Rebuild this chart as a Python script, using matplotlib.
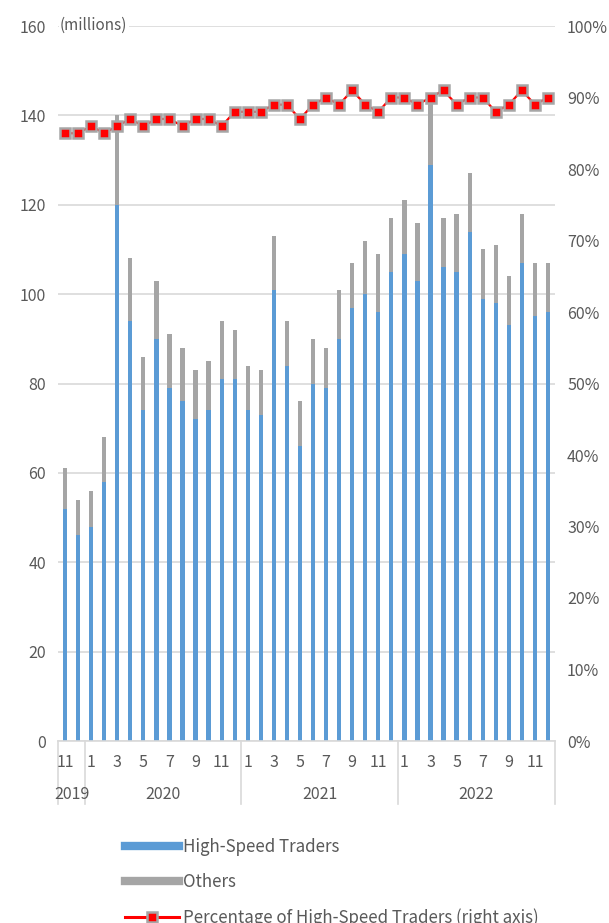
import numpy as np
import matplotlib
matplotlib.use("Agg")
from matplotlib import pyplot as plt
from matplotlib.lines import Line2D

plt.rcParams['font.family'] = ['Noto Sans CJK JP', 'DejaVu Sans']

# monthly data, Nov 2019 - Dec 2022
months = [11, 12] + list(range(1, 13)) * 3
years = ['2019', '2020', '2021', '2022']
year_spans = [(0, 1), (2, 13), (14, 25), (26, 37)]

total = [61, 54,
         56, 68, 140, 108, 86, 103, 91, 88, 83, 85, 94, 92,
         84, 83, 113, 94, 76, 90, 88, 101, 107, 112, 109, 117,
         121, 116, 143, 117, 118, 127, 110, 111, 104, 118, 107, 107]
hst = [52, 46,
       48, 58, 120, 94, 74, 90, 79, 76, 72, 74, 81, 81,
       74, 73, 101, 84, 66, 80, 79, 90, 97, 100, 96, 105,
       109, 103, 129, 106, 105, 114, 99, 98, 93, 107, 95, 96]
pct = [85, 85,
       86, 85, 86, 87, 86, 87, 87, 86, 87, 87, 86, 88,
       88, 88, 89, 89, 87, 89, 90, 89, 91, 89, 88, 90,
       90, 89, 90, 91, 89, 90, 90, 88, 89, 91, 89, 90]

others = [t - h for t, h in zip(total, hst)]
x = np.arange(len(months))

blue = '#5b9bd5'
grey = '#a5a5a5'
red = '#ff0000'
txt = '#595959'
gridc = '#d9d9d9'
fs = 11.5

fig = plt.figure(figsize=(6.09, 9.23), dpi=100)
ax = fig.add_axes([58.5/609, 182/923, 496/609, 715/923])

w = 0.33
ax.bar(x, hst, width=w, color=blue, zorder=2)
ax.bar(x, others, width=w, bottom=hst, color=grey, zorder=2)

ax.set_xlim(-0.5, len(x) - 0.5)
ax.set_ylim(0, 160)
ax.set_yticks(range(0, 161, 20))
ax.yaxis.grid(True, color=gridc, linewidth=1.2, zorder=0)
ax.set_axisbelow(True)
for s in ['top', 'right', 'left']:
    ax.spines[s].set_visible(False)
ax.spines['bottom'].set_color(gridc)
ax.spines['bottom'].set_linewidth(1.2)
ax.tick_params(axis='y', length=0, pad=9, labelsize=fs, labelcolor=txt)
ax.set_xticks([])

ax2 = ax.twinx()
ax2.plot(x, pct, color=red, linewidth=1.6, marker='s', markersize=7,
         markerfacecolor=red, markeredgecolor='#a6a6a6', markeredgewidth=1.8,
         zorder=3)
ax2.set_ylim(0, 100)
ax2.set_yticks(range(0, 101, 10))
ax2.set_yticklabels(['{}%'.format(v) for v in range(0, 101, 10)])
ax2.tick_params(axis='y', length=0, pad=9, labelsize=fs, labelcolor=txt)
for s in ['top', 'right', 'left', 'bottom']:
    ax2.spines[s].set_visible(False)

# two-level category axis
trans = ax.get_xaxis_transform()
for i, m in enumerate(months):
    if m % 2 == 1:
        ax.text(i, -0.030, str(m), transform=trans, ha='center', va='center',
                fontsize=fs, color=txt)
for yr, (a, b) in zip(years, year_spans):
    ax.text((a + b) / 2, -0.075, yr, transform=trans, ha='center', va='center',
            fontsize=fs, color=txt)
for sx in [-0.5, 1.5, 13.5, 25.5, 37.5]:
    ax.plot([sx, sx], [0, -0.088], transform=trans, color=gridc,
            linewidth=1.2, clip_on=False)

fig.text(60/609, 1 - 25/923, '(millions)', ha='left', va='center', fontsize=11,
         color=txt, bbox=dict(facecolor='white', edgecolor='none', pad=1))

handles = [Line2D([], [], color=blue, linewidth=6),
           Line2D([], [], color=grey, linewidth=6),
           Line2D([], [], color=red, linewidth=2.2, marker='s', markersize=7,
                  markerfacecolor=red, markeredgecolor='#a6a6a6', markeredgewidth=1.8)]
labels = ['High-Speed Traders', 'Others', 'Percentage of High-Speed Traders (right axis)']
fig.legend(handles, labels, loc='upper left', bbox_to_anchor=(125/609, 1 - 838/923),
           frameon=False, fontsize=12.2, labelcolor=txt, handlelength=3.2,
           handletextpad=0.25, labelspacing=1.0, borderpad=0, borderaxespad=0,
           numpoints=1)

plt.savefig('out.png', dpi=100)
